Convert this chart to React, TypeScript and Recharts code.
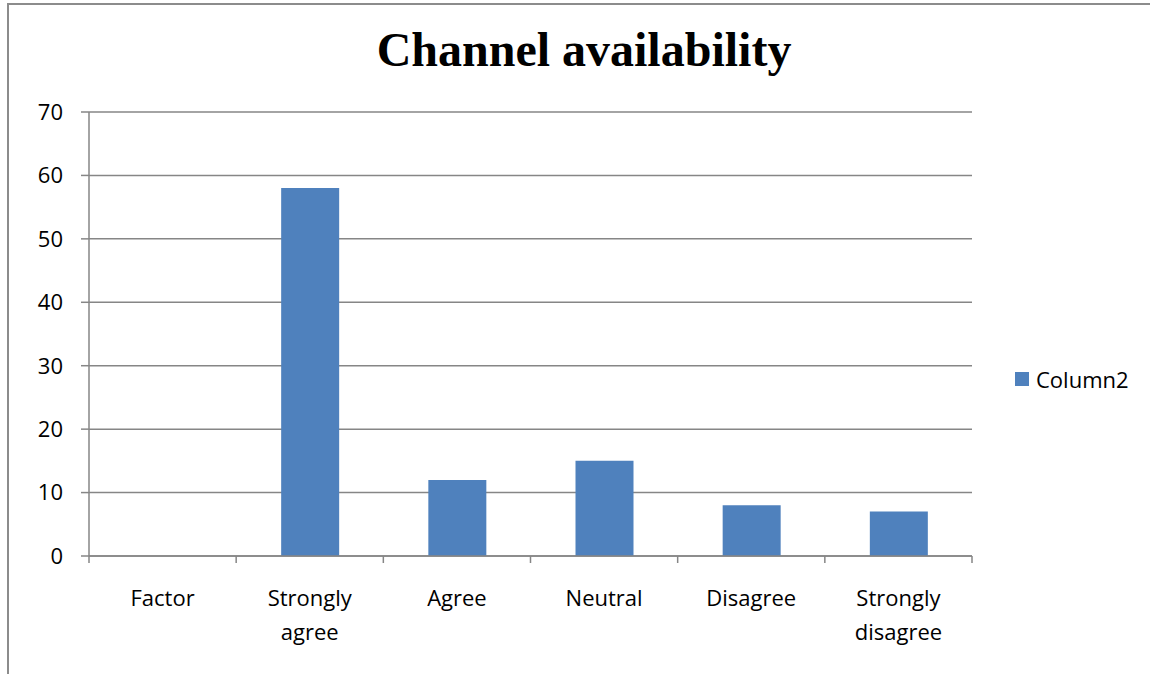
import { BarChart, Bar, XAxis, YAxis, CartesianGrid, Legend } from "recharts";

const categories = ["Factor", "Strongly agree", "Agree", "Neutral", "Disagree", "Strongly disagree"];
const column2 = [0, 58, 12, 15, 8, 7];
const yTicks = [0, 10, 20, 30, 40, 50, 60, 70];

const data = categories.map((name, i) => ({ name, Column2: column2[i] }));

const AXIS = "#868686";
const BAR = "#4f81bd";
const LABEL_FONT = "'Open Sans', 'Noto Sans', sans-serif";
const LABEL_SIZE = 22;

const WIDTH = 1150;
const HEIGHT = 674;
const MARGIN = { top: 112, right: 178, bottom: 0, left: 0 };
const Y_AXIS_W = 89;
const BAND = (WIDTH - MARGIN.right - Y_AXIS_W) / categories.length;

function CategoryTick(props: any) {
  const { x, y, payload, index } = props;
  const words: string[] = String(payload.value).split(" ");
  const half = BAND / 2;
  return (
    <g>
      <line x1={x - half} x2={x - half} y1={y} y2={y + 7} stroke={AXIS} strokeWidth={1.5} />
      {index === categories.length - 1 && (
        <line x1={x + half} x2={x + half} y1={y} y2={y + 7} stroke={AXIS} strokeWidth={1.5} />
      )}
      <text x={x} y={y} textAnchor="middle" fill="#000" fontSize={LABEL_SIZE} fontFamily={LABEL_FONT}>
        {words.map((w, i) => (
          <tspan key={i} x={x} dy={i === 0 ? 50 : 34}>
            {w}
          </tspan>
        ))}
      </text>
    </g>
  );
}

function LegendBox() {
  return (
    <div style={{ display: "flex", alignItems: "center", fontFamily: LABEL_FONT, fontSize: LABEL_SIZE, color: "#000" }}>
      <span style={{ width: 14, height: 14, background: BAR, display: "inline-block", marginRight: 7 }} />
      Column2
    </div>
  );
}

export default function App() {
  return (
    <div style={{ position: "absolute", left: 0, top: 0, width: WIDTH, height: HEIGHT, background: "#fff", overflow: "hidden" }}>
      <div
        style={{
          position: "absolute",
          left: 7,
          top: 3,
          width: WIDTH,
          height: HEIGHT - 5,
          borderLeft: "2px solid #8c8c8c",
          borderTop: "2px solid #8c8c8c",
          borderBottom: "1px solid #e0e0e0",
        }}
      />
      <div
        style={{
          position: "absolute",
          left: 0,
          width: 1168,
          top: 22,
          textAlign: "center",
          fontFamily: "'Liberation Serif', 'Times New Roman', serif",
          fontWeight: "bold",
          fontSize: 48,
          color: "#000",
        }}
      >
        Channel availability
      </div>
      <div style={{ position: "absolute", left: 0, top: 0 }}>
        <BarChart width={WIDTH} height={HEIGHT} data={data} margin={MARGIN}>
          <CartesianGrid vertical={false} stroke={AXIS} strokeWidth={1.5} />
          <XAxis
            dataKey="name"
            height={HEIGHT - 556}
            axisLine={{ stroke: AXIS, strokeWidth: 1.5 }}
            tickLine={false}
            tickSize={0}
            tickMargin={0}
            interval={0}
            tick={<CategoryTick />}
          />
          <YAxis
            width={Y_AXIS_W}
            domain={[0, 70]}
            ticks={yTicks}
            interval={0}
            axisLine={{ stroke: AXIS, strokeWidth: 1.5 }}
            tickLine={{ stroke: AXIS, strokeWidth: 1.5 }}
            tickSize={8}
            tickMargin={18}
            tick={{ fill: "#000", fontSize: LABEL_SIZE, fontFamily: LABEL_FONT }}
          />
          <Legend
            layout="horizontal"
            verticalAlign="middle"
            align="center"
            wrapperStyle={{ left: 1015, top: 364, width: 135 }}
            content={<LegendBox />}
          />
          <Bar dataKey="Column2" fill={BAR} barSize={58} isAnimationActive={false} />
        </BarChart>
      </div>
    </div>
  );
}
